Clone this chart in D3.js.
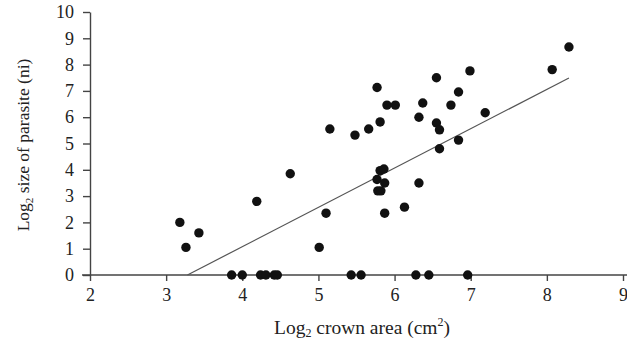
<!DOCTYPE html>
<html>
<head>
<meta charset="utf-8">
<script src="https://cdn.jsdelivr.net/npm/d3@7"></script>
<style>
  body { margin: 0; background: #fff; }
  svg text { font-family: "Liberation Serif", "Times New Roman", "DejaVu Serif", serif; fill: #222; }
</style>
</head>
<body>
<script>
// crown area (log2 cm2) and parasite size (log2 ni)
const crownArea = [
  3.18, 3.26, 3.43, 4.19, 4.63,
  3.86, 4.0, 4.24, 4.31, 4.42, 4.46,
  5.01, 5.10, 5.15, 5.48, 5.66, 5.77, 5.81, 5.90, 6.01, 6.32, 6.37,
  6.55, 6.74, 6.84, 6.99, 7.19, 8.07, 8.29,
  6.55, 6.59, 6.84, 6.59,
  5.81, 5.86, 5.77, 5.87, 5.78, 5.82, 5.87, 6.13, 6.32,
  5.43, 5.56, 6.28, 6.45, 6.96
];
const parasiteSize = [
  2.0, 1.05, 1.6, 2.8, 3.85,
  0, 0, 0, 0, 0, 0,
  1.05, 2.35, 5.55, 5.32, 5.55, 7.13, 5.82, 6.46, 6.46, 6.0, 6.54,
  7.5, 6.46, 6.96, 7.76, 6.17, 7.81, 8.67,
  5.78, 5.52, 5.13, 4.8,
  3.97, 4.03, 3.63, 3.5, 3.2, 3.2, 2.35, 2.58, 3.5,
  0, 0, 0, 0, 0
];
// fitted line end points
const fitX = [3.28, 8.29];
const fitY = [0, 7.49];

const xTicks = [2, 3, 4, 5, 6, 7, 8, 9];
const yTicks = [0, 1, 2, 3, 4, 5, 6, 7, 8, 9, 10];

const width = 627, height = 341;
const serif = '"Liberation Serif", "Times New Roman", "DejaVu Serif", serif';

const svg = d3.select('body').append('svg')
    .attr('width', width)
    .attr('height', height);

const x = d3.scaleLinear().domain([2, 9]).range([90, 623]);
const y = d3.scaleLinear().domain([0, 10]).range([275, 12]);

const xAxis = svg.append('g')
    .attr('transform', `translate(0,${y(0)})`)
    .call(d3.axisBottom(x).tickValues(xTicks).tickFormat(d3.format('d'))
      .tickSize(6).tickSizeOuter(0).tickPadding(7));

const yAxis = svg.append('g')
    .attr('transform', `translate(${x(2)},0)`)
    .call(d3.axisLeft(y).tickValues(yTicks).tickFormat(d3.format('d'))
      .tickSize(7).tickSizeOuter(0).tickPadding(9));

[xAxis, yAxis].forEach(g => {
  g.attr('font-family', serif).attr('font-size', 18);
  g.selectAll('path, line').attr('stroke', '#444').attr('stroke-width', 1.4);
  g.selectAll('text').attr('fill', '#222');
});

// axis line runs to the right edge
xAxis.select('.domain').attr('d', `M${x(2) - 8},0H${width}`);

// regression line
svg.append('line')
    .attr('x1', x(fitX[0])).attr('y1', y(fitY[0]))
    .attr('x2', x(fitX[1])).attr('y2', y(fitY[1]))
    .attr('stroke', '#555')
    .attr('stroke-width', 1.2);

const pts = crownArea.map((d, i) => [d, parasiteSize[i]]);

svg.append('g').selectAll('circle')
    .data(pts)
    .join('circle')
    .attr('cx', d => x(d[0]))
    .attr('cy', d => y(d[1]))
    .attr('r', 4.7)
    .attr('fill', '#111');

// axis titles
const xt = svg.append('text')
    .attr('x', 362)
    .attr('y', 334)
    .attr('text-anchor', 'middle')
    .attr('font-family', serif)
    .attr('font-size', 19.5);
xt.append('tspan').text('Log');
xt.append('tspan').attr('font-size', 12).attr('dy', 3).text('2');
xt.append('tspan').attr('dy', -3).text(' crown area (cm');
xt.append('tspan').attr('font-size', 12).attr('dy', -8).text('2');
xt.append('tspan').attr('dy', 8).text(')');

const yt = svg.append('text')
    .attr('transform', 'translate(29,145) rotate(-90)')
    .attr('text-anchor', 'middle')
    .attr('font-family', serif)
    .attr('font-size', 17.5);
yt.append('tspan').text('Log');
yt.append('tspan').attr('font-size', 11).attr('dy', 4).text('2');
yt.append('tspan').attr('dy', -4).text(' size of parasite (ni)');
</script>
</body>
</html>
